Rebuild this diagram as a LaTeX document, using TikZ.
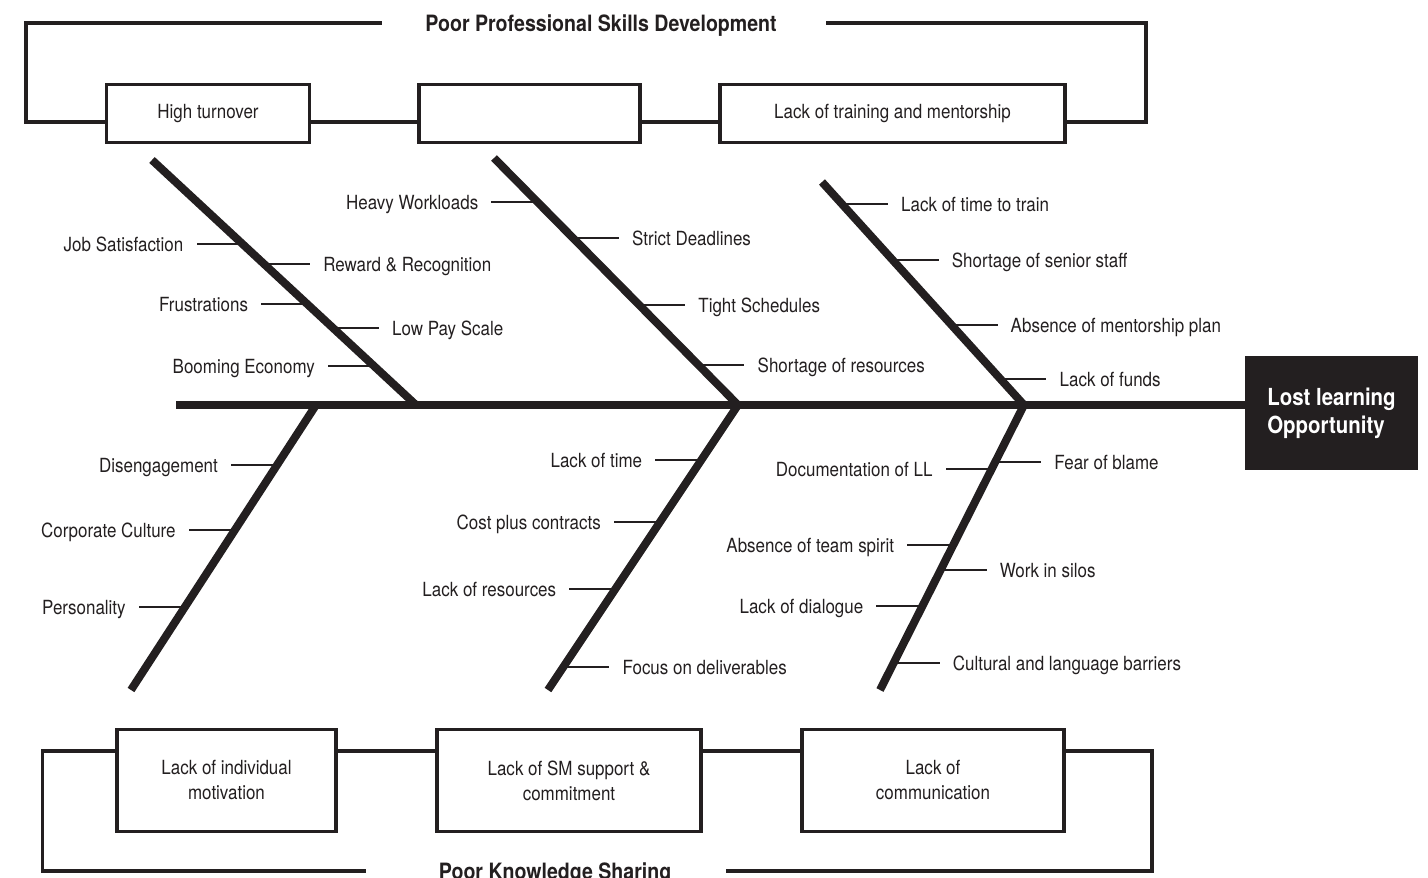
\documentclass[tikz,border=0pt]{standalone}
\usepackage{fontspec}
\setmainfont{TeX Gyre Heros}[FakeStretch=0.87]
\usepackage{tikz}
\usetikzlibrary{positioning,calc}
\definecolor{ink}{HTML}{231F20}
\tikzset{
  cbox/.style  = {draw, line width=3.5pt, minimum height=58pt,
                  inner sep=0pt, align=center},
  kbox/.style  = {cbox, minimum height=102pt},
  cause/.style = {inner sep=0pt, text height=14pt, text depth=0pt},
  ttl/.style   = {inner sep=0pt, text height=16.2pt, text depth=0pt,
                  font=\bfseries\fontsize{22.5}{27}\selectfont},
  head/.style  = {fill=ink, text=white, minimum width=173pt,
                  minimum height=114pt, align=left,
                  font=\bfseries\fontsize{23.5}{28}\selectfont},
  frame/.style = {line width=3.5pt},
  bone/.style  = {line width=8pt},
  rib/.style   = {line width=2pt, shorten >=13pt}
}

\begin{document}
\begin{tikzpicture}[x=1pt, y=-1pt, color=ink,
                    font=\fontsize{19.5}{25}\selectfont]
  \useasboundingbox (0,0) rectangle (1428,878);

  % category boxes
  \node[cbox, minimum width=203pt] (ht) at (208,113.5)   {High turnover};
  \node[cbox, minimum width=221pt] (wl) at (529.5,113.5) {};
  \node[cbox, minimum width=345pt] (tm) at (892.5,113.5) {Lack of training and mentorship};
  \node[kbox, minimum width=219pt] (im) at (226.5,780.5) {Lack of individual\\motivation};
  \node[kbox, minimum width=264pt] (sm) at (569,780.5)   {Lack of SM support \&\\commitment};
  \node[kbox, minimum width=262pt] (cm) at (933,780.5)   {Lack of\\communication};

  \node[ttl] (psd) at (601,23)  {Poor Professional Skills Development};
  \node[ttl] (pks) at (555,871) {Poor Knowledge Sharing};

  % frames round the boxes
  \draw[frame] ([yshift=-8.5pt]ht.west) -- ++(-79,0) |- ([xshift=-43pt]psd.west);
  \draw[frame] ([yshift=-8.5pt]tm.east) -- ++(79,0) |- ([xshift=49pt]psd.east);
  \draw[frame] ([yshift=-8.5pt]ht.east) -- ([yshift=-8.5pt]wl.west);
  \draw[frame] ([yshift=-8.5pt]wl.east) -- ([yshift=-8.5pt]tm.west);
  \draw[frame] ([yshift=29.5pt]im.west) -- ++(-73,0) |- ([xshift=-73pt]pks.west);
  \draw[frame] ([yshift=29.5pt]cm.east) -- ++(86,0) |- ([xshift=55pt]pks.east);
  \draw[frame] ([yshift=29.5pt]im.east) -- ([yshift=29.5pt]sm.west);
  \draw[frame] ([yshift=29.5pt]sm.east) -- ([yshift=29.5pt]cm.west);

  % head and spine
  \node[head] (hd) at (1331.5,413) {Lost learning\\Opportunity};
  \coordinate (tail) at (176,405);
  \draw[bone] (tail) -- (tail -| hd.west);

  % bones: tip and point on the spine
  \coordinate (u1) at (152,160);  \coordinate (u1-s) at (416,405);
  \coordinate (u2) at (494,158);  \coordinate (u2-s) at (738,405);
  \coordinate (u3) at (822,182);  \coordinate (u3-s) at (1024,405);
  \coordinate (l1) at (131,690);  \coordinate (l1-s) at (316,405);
  \coordinate (l2) at (548,690);  \coordinate (l2-s) at (738,405);
  \coordinate (l3) at (880,690);  \coordinate (l3-s) at (1024,405);
  \foreach \b in {u1,u2,u3,l1,l2,l3}
    \draw[bone] (\b) -- (\b-s);

  % causes
  \foreach \b/\h/\y/\s/\t [count=\i] in {
      u1/-245/244/left/Job Satisfaction,
      u1/-245/264/right/Reward \& Recognition,
      u1/-245/304/left/Frustrations,
      u1/-245/328/right/Low Pay Scale,
      u1/-245/366/left/Booming Economy,
      u2/-247/202/left/Heavy Workloads,
      u2/-247/238/right/Strict Deadlines,
      u2/-247/305/right/Tight Schedules,
      u2/-247/365/right/Shortage of resources,
      u3/-223/204/right/Lack of time to train,
      u3/-223/260/right/Shortage of senior staff,
      u3/-223/325/right/Absence of mentorship plan,
      u3/-223/379/right/Lack of funds,
      l1/285/465/left/Disengagement,
      l1/285/530/left/Corporate Culture,
      l1/285/607/left/Personality,
      l2/285/460/left/Lack of time,
      l2/285/522/left/Cost plus contracts,
      l2/285/589/left/Lack of resources,
      l2/285/667/right/Focus on deliverables,
      l3/285/462/right/Fear of blame,
      l3/285/469/left/Documentation of LL,
      l3/285/545/left/Absence of team spirit,
      l3/285/570/right/Work in silos,
      l3/285/606/left/Lack of dialogue,
      l3/285/663/right/Cultural and language barriers} {
    \coordinate (r\i) at ($(\b-s)!{(\y-405)/(\h)}!(\b)$);
    \node[cause, \s=59pt of r\i] (c\i) {\t};
    \draw[rib] (r\i) -- (c\i);
  }
\end{tikzpicture}
\end{document}
